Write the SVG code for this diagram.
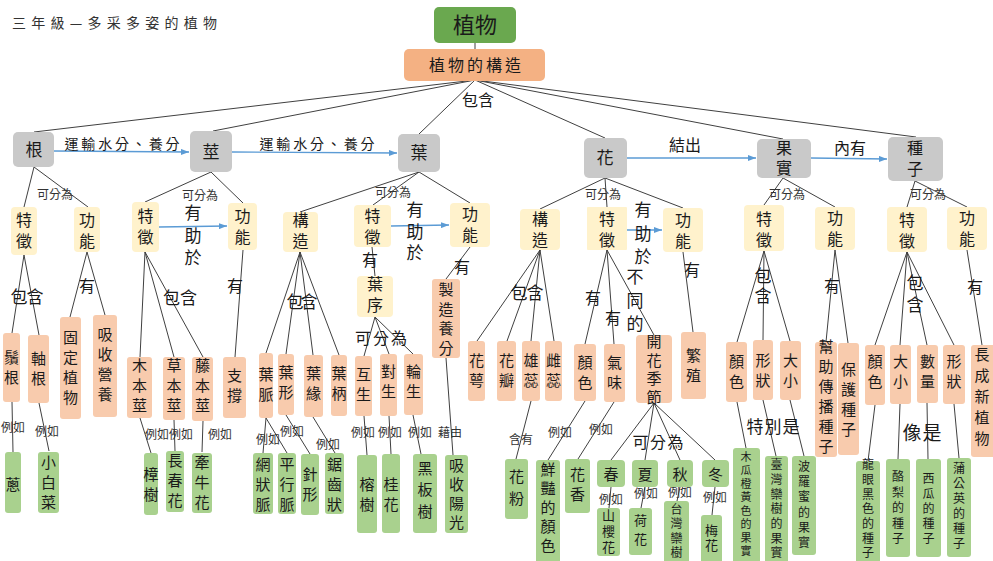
<svg xmlns="http://www.w3.org/2000/svg" width="993" height="561" viewBox="0 0 993 561">
<style>
text{font-family:"Noto Sans CJK TC","Noto Sans CJK JP",sans-serif;fill:#1a1a1a;text-anchor:middle}
.v{writing-mode:vertical-rl;text-orientation:upright}
.g{fill:#c9c9c9}.y{fill:#fff2cc}.o{fill:#f8cbad}.gr{fill:#a9d18e}
.t15{font-size:15px}.t16{font-size:16px}.t17{font-size:17px}.t12{font-size:12px}.t13{font-size:13px}.t11{font-size:11px}
.s5{letter-spacing:5px}.s3{letter-spacing:3px}
.ln{stroke:#404040;stroke-width:1;fill:none}
.ar{stroke:#5b9bd5;stroke-width:1.3;fill:none;marker-end:url(#ah)}
.lb{font-size:12px;fill:#333}
.lb2{font-size:16px}
</style>
<defs>
<marker id="ah" markerWidth="8" markerHeight="6" refX="8" refY="3" orient="auto" markerUnits="userSpaceOnUse"><path d="M0,0 L8,3 L0,6 z" fill="#5b9bd5"/></marker>
</defs>
<rect width="993" height="561" fill="#ffffff"/>
<text x="12" y="28" style="font-size:14px;text-anchor:start;fill:#333" textLength="205">三年級—多采多姿的植物</text>

<g id="connectors">
<line class="ln" x1="475" y1="43" x2="475" y2="50"/>
<path class="ln" d="M475,80 L34,132 M475,80 L213,131 M475,80 L419,134 M475,80 L605,138 M475,80 L783,139 M475,80 L916,137"/>
<path class="ln" d="M34,167 L24,207 M34,167 L88,207 M211,172 L145,202 M211,172 L243,203 M419,172 L300,212 M419,172 L373,205 M419,172 L470,203 M605,178 L540,209 M605,178 L607,207 M605,178 L683,208 M783,178 L764,205 M783,178 L835,207 M915,181 L907,207 M915,181 L967,207"/>
<path class="ln" d="M24,255 L12,333 M24,255 L39,335 M87,252 L70,317 M87,252 L105,315 M145,252 L140,357 M145,252 L174,357 M145,252 L203,357 M243,250 L235,357 M300,252 L266,353 M300,252 L286,354 M300,252 L313,355 M300,252 L339,355 M372,247 L375,276 M375,317 L364,356 M375,317 L389,354 M375,317 L413,354 M470,247 L446,279 M540,250 L477,341 M540,250 L507,341 M540,250 L531,341 M540,250 L554,341 M607,250 L585,344 M607,250 L614,344 M607,250 L654,335 M683,252 L693,332 M764,251 L737,342 M764,251 L763,340 M764,251 L790,341 M835,250 L826,342 M835,250 L848,343 M907,252 L875,345 M907,252 L900,345 M907,252 L927,345 M907,252 L954,345 M967,250 L982,345"/>
<path class="ln" d="M12,402 L13,452 M39,403 L49,451 M140,418 L151,453 M174,420 L175,451 M203,421 L202,452 M266,418 L263,453 M266,418 L287,453 M286,415 L310,454 M313,417 L335,453 M364,416 L367,455 M389,416 L391,454 M413,415 L421,454 M446,358 L453,455 M531,401 L516,459 M585,401 L548,460 M614,402 L578,459 M654,403 L611,460 M654,403 L645,460 M654,403 L680,460 M654,403 L715,460 M611,487 L609,508 M645,487 L641,508 M680,487 L677,501 M715,487 L712,515 M737,402 L746,448 M763,400 L776,456 M790,400 L804,456 M875,405 L868,461 M900,404 L898,459 M927,403 L928,459 M954,404 L959,458"/>
<line class="ar" x1="54" y1="151" x2="189" y2="152"/>
<line class="ar" x1="232" y1="152" x2="397" y2="153"/>
<line class="ar" x1="627" y1="158" x2="756" y2="158"/>
<line class="ar" x1="811" y1="158" x2="887" y2="159"/>
<line class="ar" x1="159" y1="227" x2="227" y2="226"/>
<line class="ar" x1="391" y1="226" x2="449" y2="225"/>
<line class="ar" x1="627" y1="230" x2="662" y2="230"/>
</g>

<g id="labels">
<text class="lb2" x="478" y="106">包含</text>
<text style="font-size:14px" x="122" y="149" textLength="115">運輸水分、養分</text>
<text style="font-size:14px" x="317" y="149" textLength="115">運輸水分、養分</text>
<text class="lb2" x="685" y="151">結出</text>
<text class="lb2" x="850" y="154">內有</text>
<text class="lb" x="55" y="199">可分為</text>
<text class="lb" x="200" y="200">可分為</text>
<text class="lb" x="393" y="197">可分為</text>
<text class="lb" x="603" y="199">可分為</text>
<text class="lb" x="787" y="199">可分為</text>
<text class="lb" x="928" y="199">可分為</text>
<text class="t17" x="27" y="303" textLength="33">包含</text>
<text class="t16" x="87" y="292">有</text>
<text class="t17" x="180" y="304" textLength="34">包含</text>
<text class="t17 v" x="193" y="238" style="letter-spacing:5.5px">有助於</text>
<text class="t16" x="235" y="292">有</text>
<text class="t17" x="302" y="308" textLength="31">包含</text>
<text class="t16" x="370" y="266">有</text>
<text class="t17 v" x="415" y="233.5" style="letter-spacing:4.5px">有助於</text>
<text class="t16" x="462" y="273">有</text>
<text class="t16" x="381" y="344" textLength="52">可分為</text>
<text class="t17" x="527" y="299" textLength="33">包含</text>
<text class="t16" x="593" y="304">有</text>
<text class="t16" x="613" y="324">有</text>
<text class="t17 v" x="635" y="303.5" style="letter-spacing:6.5px">不同的</text>
<text class="t17 v" x="643" y="236.5" style="letter-spacing:6.5px">有助於</text>
<text class="t16" x="692" y="276">有</text>
<text class="t17 v" x="763" y="287" style="letter-spacing:3px">包含</text>
<text class="t16" x="832" y="292">有</text>
<text class="t17 v" x="915" y="296" style="letter-spacing:5px">包含</text>
<text class="t16" x="975" y="293">有</text>
<text class="lb" x="13" y="432">例如</text>
<text class="lb" x="47" y="436">例如</text>
<text class="lb" x="157" y="439">例如</text>
<text class="lb" x="181" y="439">例如</text>
<text class="lb" x="220" y="439">例如</text>
<text class="lb" x="268" y="444">例如</text>
<text class="lb" x="292" y="436">例如</text>
<text class="lb" x="328" y="449">例如</text>
<text class="lb" x="363" y="437">例如</text>
<text class="lb" x="390" y="437">例如</text>
<text class="lb" x="420" y="437">例如</text>
<text class="lb" x="450" y="437">藉由</text>
<text class="lb" x="521" y="444">含有</text>
<text class="lb" x="560" y="437">例如</text>
<text class="lb" x="601" y="434">例如</text>
<text class="t16" x="658" y="448" textLength="51">可分為</text>
<text class="lb" x="611" y="504">例如</text>
<text class="lb" x="646" y="498">例如</text>
<text class="lb" x="680" y="497">例如</text>
<text class="lb" x="715" y="502">例如</text>
<text class="t17" x="773" y="433" textLength="53">特別是</text>
<text style="font-size:19px" x="922" y="440" textLength="39">像是</text>
</g>

<g id="n-zhiwu"><rect x="434" y="7" width="82" height="36" rx="5" fill="#6aa84f"/><text style="font-size:22px" x="475" y="33">植物</text></g>
<g id="n-gouzao"><rect x="404" y="49" width="141" height="32" rx="5" fill="#f4b183"/><text class="t16" x="475" y="71" textLength="92">植物的構造</text></g>

<g id="n-gen"><rect class="g" x="13" y="132" width="41" height="35" rx="5"/><text class="t17" x="34" y="156">根</text></g>
<g id="n-jing"><rect class="g" x="190" y="131" width="42" height="41" rx="5"/><text class="t17" x="211" y="158">莖</text></g>
<g id="n-ye"><rect class="g" x="398" y="134" width="42" height="38" rx="5"/><text class="t17" x="419" y="159">葉</text></g>
<g id="n-hua"><rect class="g" x="584" y="138" width="43" height="40" rx="5"/><text class="t17" x="605" y="164">花</text></g>
<g id="n-guoshi"><rect class="g" x="757" y="139" width="54" height="39" rx="5"/><text class="t16 v" x="784" y="160" style="letter-spacing:4px">果實</text></g>
<g id="n-zhongzi"><rect class="g" x="888" y="137" width="55" height="44" rx="5"/><text class="t16 v s5" x="915" y="160.5">種子</text></g>

<g id="n-gen-tz"><rect class="y" x="11" y="207" width="26" height="48" rx="4"/><text class="t16 v s5" x="24" y="232.5">特徵</text></g>
<g id="n-gen-gn"><rect class="y" x="74" y="207" width="26" height="45" rx="4"/><text class="t16 v s5" x="87" y="232.5">功能</text></g>
<g id="n-jing-tz"><rect class="y" x="132" y="202" width="27" height="50" rx="4"/><text class="t16 v s5" x="145.5" y="229">特徵</text></g>
<g id="n-jing-gn"><rect class="y" x="228" y="203" width="29" height="47" rx="4"/><text class="t16 v s5" x="242.5" y="229">功能</text></g>
<g id="n-ye-gz"><rect class="y" x="283" y="212" width="35" height="40" rx="4"/><text class="t16 v s5" x="300.5" y="232.5">構造</text></g>
<g id="n-ye-tz"><rect class="y" x="354" y="205" width="37" height="42" rx="4"/><text class="t16 v s5" x="372.5" y="229">特徵</text></g>
<g id="n-ye-gn"><rect class="y" x="450" y="203" width="40" height="44" rx="4"/><text class="t16 v s5" x="470" y="226.5">功能</text></g>
<g id="n-yexu"><rect class="y" x="357" y="276" width="36" height="41" rx="4"/><text class="t16 v s5" x="375" y="296.5">葉序</text></g>
<g id="n-hua-gz"><rect class="y" x="520" y="209" width="40" height="41" rx="4"/><text class="t16 v s5" x="540" y="231.5">構造</text></g>
<g id="n-hua-tz"><rect class="y" x="587" y="207" width="40" height="43" rx="1"/><text class="t16 v s5" x="607" y="231.5">特徵</text></g>
<g id="n-hua-gn"><rect class="y" x="663" y="208" width="40" height="44" rx="4"/><text class="t16 v s5" x="683" y="232.5">功能</text></g>
<g id="n-gs-tz"><rect class="y" x="744" y="205" width="40" height="46" rx="4"/><text class="t16 v s5" x="764" y="231.5">特徵</text></g>
<g id="n-gs-gn"><rect class="y" x="815" y="207" width="40" height="43" rx="4"/><text class="t16 v s5" x="835" y="231">功能</text></g>
<g id="n-zz-tz"><rect class="y" x="887" y="207" width="40" height="45" rx="4"/><text class="t16 v s5" x="907" y="232.5">特徵</text></g>
<g id="n-zz-gn"><rect class="y" x="947" y="207" width="40" height="43" rx="4"/><text class="t16 v s5" x="967" y="231">功能</text></g>

<g id="n-xugen"><rect class="o" x="3" y="333" width="17" height="69" rx="3"/><text class="t15 v s5" x="11.5" y="370">鬚根</text></g>
<g id="n-zhougen"><rect class="o" x="28" y="335" width="21" height="68" rx="3"/><text class="t15 v s5" x="38.5" y="371">軸根</text></g>
<g id="n-guding"><rect class="o" x="60" y="317" width="21" height="102" rx="3"/><text class="t15 v s5" x="70.5" y="370">固定植物</text></g>
<g id="n-xishou"><rect class="o" x="93" y="315" width="24" height="102" rx="3"/><text class="t15 v s5" x="105" y="367">吸收營養</text></g>
<g id="n-muben"><rect class="o" x="127" y="357" width="25" height="61" rx="3"/><text class="t15 v s5" x="139.5" y="388">木本莖</text></g>
<g id="n-caoben"><rect class="o" x="163" y="357" width="22" height="63" rx="3"/><text class="t15 v s5" x="174" y="388">草本莖</text></g>
<g id="n-tengben"><rect class="o" x="192" y="357" width="21" height="64" rx="3"/><text class="t15 v s5" x="202.5" y="388">藤本莖</text></g>
<g id="n-zhicheng"><rect class="o" x="223" y="357" width="23" height="61" rx="3"/><text class="t15 v s5" x="234.5" y="387.5">支撐</text></g>
<g id="n-yemai"><rect class="o" x="259" y="353" width="14" height="65" rx="3"/><text class="t15 v s5" x="266" y="387">葉脈</text></g>
<g id="n-yexing"><rect class="o" x="278" y="354" width="16" height="61" rx="3"/><text class="t15 v s5" x="286" y="385">葉形</text></g>
<g id="n-yeyuan"><rect class="o" x="304" y="355" width="19" height="62" rx="3"/><text class="t15 v s5" x="313.5" y="386">葉緣</text></g>
<g id="n-yebing"><rect class="o" x="331" y="355" width="16" height="61" rx="3"/><text class="t15 v s5" x="339" y="386">葉柄</text></g>
<g id="n-husheng"><rect class="o" x="355" y="356" width="17" height="60" rx="3"/><text class="t15 v s5" x="363.5" y="386.5">互生</text></g>
<g id="n-duisheng"><rect class="o" x="380" y="354" width="17" height="62" rx="3"/><text class="t15 v s5" x="388.5" y="384">對生</text></g>
<g id="n-lunsheng"><rect class="o" x="404" y="354" width="19" height="61" rx="3"/><text class="t15 v s5" x="413.5" y="384">輪生</text></g>
<g id="n-zhizao"><rect class="o" x="432" y="279" width="28" height="79" rx="3"/><text class="t15 v" x="446" y="321" style="letter-spacing:4.5px">製造養分</text></g>
<g id="n-huae"><rect class="o" x="468" y="341" width="17" height="60" rx="3"/><text class="t15 v s5" x="476.5" y="373">花萼</text></g>
<g id="n-huaban"><rect class="o" x="497" y="341" width="19" height="60" rx="3"/><text class="t15 v s5" x="506.5" y="373">花瓣</text></g>
<g id="n-xiongrui"><rect class="o" x="522" y="341" width="18" height="60" rx="3"/><text class="t15 v s5" x="531" y="373">雄蕊</text></g>
<g id="n-cirui"><rect class="o" x="545" y="341" width="17" height="60" rx="3"/><text class="t15 v s5" x="553.5" y="373">雌蕊</text></g>
<g id="n-hua-yanse"><rect class="o" x="574" y="344" width="22" height="57" rx="3"/><text class="t15 v s5" x="585" y="374.5">顏色</text></g>
<g id="n-qiwei"><rect class="o" x="604" y="344" width="21" height="58" rx="3"/><text class="t15 v s5" x="614.5" y="374.5">氣味</text></g>
<g id="n-kaihua"><rect class="o" x="636" y="335" width="36" height="68" rx="4"/><text class="t15 v" x="654" y="371" style="letter-spacing:3.5px">開花季節</text></g>
<g id="n-fanzhi"><rect class="o" x="681" y="332" width="25" height="67" rx="3"/><text class="t15 v s5" x="693.5" y="367.5">繁殖</text></g>
<g id="n-gs-yanse"><rect class="o" x="726" y="342" width="21" height="60" rx="3"/><text class="t15 v s5" x="736.5" y="373.5">顏色</text></g>
<g id="n-gs-xingzhuang"><rect class="o" x="753" y="340" width="20" height="60" rx="3"/><text class="t15 v s5" x="763" y="372.5">形狀</text></g>
<g id="n-gs-daxiao"><rect class="o" x="780" y="341" width="21" height="59" rx="3"/><text class="t15 v s5" x="790.5" y="372.5">大小</text></g>
<g id="n-bangzhu"><rect class="o" x="815" y="342" width="22" height="115" rx="3"/><text class="t15 v s5" x="826" y="399">幫助傳播種子</text></g>
<g id="n-baohu"><rect class="o" x="838" y="343" width="21" height="112" rx="3"/><text class="t15 v s5" x="848.5" y="402">保護種子</text></g>
<g id="n-zz-yanse"><rect class="o" x="865" y="345" width="20" height="60" rx="3"/><text class="t15 v s5" x="875" y="374">顏色</text></g>
<g id="n-zz-daxiao"><rect class="o" x="890" y="345" width="21" height="59" rx="3"/><text class="t15 v s5" x="900.5" y="374">大小</text></g>
<g id="n-shuliang"><rect class="o" x="917" y="345" width="21" height="58" rx="3"/><text class="t15 v s5" x="927.5" y="374">數量</text></g>
<g id="n-zz-xingzhuang"><rect class="o" x="943" y="345" width="22" height="59" rx="3"/><text class="t15 v s5" x="954" y="374">形狀</text></g>
<g id="n-zhangcheng"><rect class="o" x="971" y="345" width="24" height="112" rx="3"/><text class="t15 v" x="982" y="399" style="letter-spacing:6px">長成新植物</text></g>

<g id="n-cong"><rect class="gr" x="5" y="452" width="16" height="61" rx="3"/><text class="t15" x="13" y="490">蔥</text></g>
<g id="n-xiaobaicai"><rect class="gr" x="38" y="452" width="21" height="61" rx="3"/><text class="t15 v s5" x="48.5" y="485">小白菜</text></g>
<g id="n-zhangshu"><rect class="gr" x="144" y="453" width="14" height="62" rx="3"/><text class="t15 v s5" x="151" y="487">樟樹</text></g>
<g id="n-changchunhua"><rect class="gr" x="166" y="451" width="18" height="61" rx="3"/><text class="t15 v s5" x="175" y="483">長春花</text></g>
<g id="n-qianniuhua"><rect class="gr" x="192" y="453" width="20" height="60" rx="3"/><text class="t15 v s5" x="202" y="485">牽牛花</text></g>
<g id="n-wangzhuangmai"><rect class="gr" x="253" y="453" width="20" height="61" rx="3"/><text class="t15 v s5" x="263" y="487">網狀脈</text></g>
<g id="n-pingxingmai"><rect class="gr" x="278" y="453" width="18" height="61" rx="3"/><text class="t15 v s5" x="287" y="487">平行脈</text></g>
<g id="n-zhenxing"><rect class="gr" x="301" y="454" width="18" height="61" rx="3"/><text class="t15 v s5" x="310" y="487">針形</text></g>
<g id="n-juchizhuang"><rect class="gr" x="325" y="453" width="19" height="61" rx="3"/><text class="t15 v s5" x="334.5" y="487">鋸齒狀</text></g>
<g id="n-rongshu"><rect class="gr" x="357" y="455" width="20" height="78" rx="3"/><text class="t15 v s5" x="367" y="497">榕樹</text></g>
<g id="n-guihua"><rect class="gr" x="382" y="454" width="18" height="79" rx="3"/><text class="t15 v s5" x="391" y="497">桂花</text></g>
<g id="n-heibanshu"><rect class="gr" x="413" y="454" width="24" height="79" rx="3"/><text class="t15 v" x="425" y="493" style="letter-spacing:6.5px">黑板樹</text></g>
<g id="n-xishouyangguang"><rect class="gr" x="445" y="455" width="23" height="78" rx="3"/><text class="t15 v" x="456.5" y="496" style="letter-spacing:4px">吸收陽光</text></g>
<g id="n-huafen"><rect class="gr" x="505" y="459" width="23" height="60" rx="3"/><text class="t15 v" x="516.5" y="491" style="letter-spacing:7px">花粉</text></g>
<g id="n-xianyan"><rect class="gr" x="536" y="460" width="24" height="104" rx="3"/><text class="t15 v" x="548" y="509" style="letter-spacing:4px">鮮豔的顏色</text></g>
<g id="n-huaxiang"><rect class="gr" x="565" y="459" width="25" height="54" rx="3"/><text class="t15 v s5" x="577.5" y="487">花香</text></g>
<g id="n-chun"><rect class="gr" x="597" y="460" width="28" height="27" rx="4"/><text class="t15" x="611" y="480">春</text></g>
<g id="n-xia"><rect class="gr" x="632" y="460" width="26" height="27" rx="4"/><text class="t15" x="645" y="480">夏</text></g>
<g id="n-qiu"><rect class="gr" x="667" y="460" width="26" height="27" rx="4"/><text class="t15" x="680" y="480">秋</text></g>
<g id="n-dong"><rect class="gr" x="702" y="460" width="27" height="27" rx="4"/><text class="t15" x="715.5" y="480">冬</text></g>
<g id="n-shanyinghua"><rect class="gr" x="597" y="508" width="23" height="48" rx="3"/><text class="t13 v" x="608.5" y="533" style="letter-spacing:3px">山櫻花</text></g>
<g id="n-hehua"><rect class="gr" x="629" y="508" width="23" height="47" rx="3"/><text class="t13 v" x="640.5" y="532.5" style="letter-spacing:6px">荷花</text></g>
<g id="n-taiwanluanshu"><rect class="gr" x="664" y="501" width="25" height="63" rx="3"/><text class="t12 v" x="676.5" y="532" style="letter-spacing:2.5px">台灣欒樹</text></g>
<g id="n-meihua"><rect class="gr" x="701" y="515" width="21" height="49" rx="3"/><text class="t13 v" x="711.5" y="539" style="letter-spacing:2px">梅花</text></g>
<g id="n-mugua"><rect class="gr" x="733" y="448" width="27" height="116" rx="3"/><text class="t11 v" x="746" y="505" style="letter-spacing:2.5px">木瓜橙黃色的果實</text></g>
<g id="n-luanshuguo"><rect class="gr" x="765" y="456" width="23" height="108" rx="3"/><text class="t12 v" x="776.5" y="510" style="letter-spacing:2.7px">臺灣欒樹的果實</text></g>
<g id="n-boluomi"><rect class="gr" x="792" y="456" width="24" height="99" rx="3"/><text class="t12 v" x="804" y="506" style="letter-spacing:3.2px">波羅蜜的果實</text></g>
<g id="n-longyan"><rect class="gr" x="856" y="461" width="24" height="103" rx="3"/><text class="t12 v" x="868" y="510" style="letter-spacing:2.7px">龍眼黑色的種子</text></g>
<g id="n-huoli"><rect class="gr" x="886" y="459" width="24" height="98" rx="3"/><text class="t12 v" x="898" y="509.5" style="letter-spacing:3.5px">酪梨的種子</text></g>
<g id="n-xigua"><rect class="gr" x="916" y="459" width="25" height="98" rx="3"/><text class="t12 v s3" x="928.5" y="510">西瓜的種子</text></g>
<g id="n-pugongying"><rect class="gr" x="947" y="458" width="24" height="99" rx="3"/><text class="t12 v s3" x="959" y="507.5">蒲公英的種子</text></g>
</svg>
